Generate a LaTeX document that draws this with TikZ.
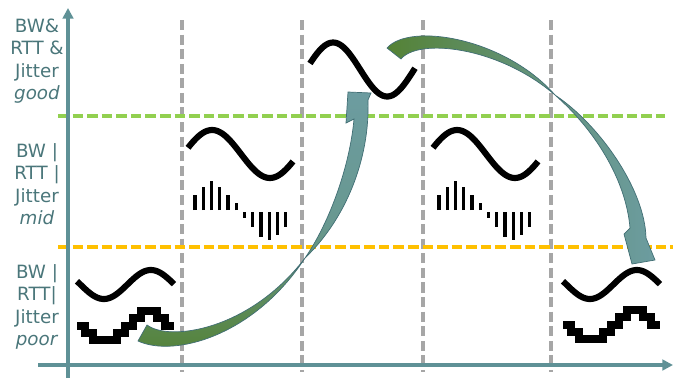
\documentclass[tikz,border=0pt]{standalone}
\usepackage{fontspec}
\setmainfont{DejaVu Sans}
\usetikzlibrary{arrows.meta}
\definecolor{axisteal}{RGB}{95,145,150}
\definecolor{labelteal}{RGB}{74,118,122}
\definecolor{gridgrey}{RGB}{166,166,166}
\definecolor{goodgreen}{RGB}{146,208,80}
\definecolor{midorange}{RGB}{255,192,0}
\definecolor{tailgreen}{RGB}{84,130,53}
\definecolor{headteal}{RGB}{108,156,160}
\definecolor{bandline}{RGB}{65,110,116}
\begin{document}
\begin{tikzpicture}[x=0.02cm,y=-0.02cm,>={Triangle[length=6pt,width=6pt]},
  lbl/.style={text=labelteal,align=center,inner sep=0pt,font=\fontsize{10.4}{12.8}\selectfont},
  axis/.style={draw=axisteal,line width=1.9pt},
  gridline/.style={draw=gridgrey,line width=2.1pt,dash pattern=on 5.7pt off 2.6pt},
  level/.style={line width=2.1pt,dash pattern=on 6pt off 2.3pt},
  wave/.style={line width=3.5pt},
  stair/.style={line width=4.8pt,miter limit=10},
  jitbar/.style={line width=1.9pt},
  band/.style={draw=bandline,line width=0.4pt}]
  \useasboundingbox (0,0) rectangle (683,379);
  % 纵向虚线
  \foreach \x in {182,302,423,551}
    \draw[gridline] (\x,20) -- (\x,372);
  % 等级分界线
  \draw[level,goodgreen] (58,116) -- (665,116);
  \draw[level,midorange] (58,247) -- (673,247);
  % 坐标轴
  \draw[axis,->] (68,378) -- (68,8);
  \draw[axis,->] (38,365) -- (673,365);
  % 纵轴标注
  \node[lbl] (good) at (37,61) {BW\&\\RTT \&\\Jitter\\\textit{good}};
  \node[lbl] (mid) at (37,184) {BW |\\RTT |\\Jitter\\\textit{mid}};
  \node[lbl] (poor) at (37,307) {BW |\\RTT|\\Jitter\\\textit{poor}};
  % good：正弦
  \draw[wave] plot[domain=0:105,samples=60] ({310+\x},{69.5-27*sin(13+3.33*\x)});
  % mid：正弦与抖动
  \foreach \s in {188,433}
    \draw[wave] plot[domain=0:105,samples=60] ({\s+\x},{154-24*sin(15+3.114*\x)});
  \foreach \s in {195,439}{
    \foreach \h [count=\i from 0] in {15,23,29,23,15,7}
      \draw[jitbar] ({\s+8.25*\i},210) -- ++(0,-\h);
    \foreach \h [count=\i from 6] in {6,15,25,28,23,15}
      \draw[jitbar] ({\s+8.25*\i},212) -- ++(0,\h);
  }
  % poor：正弦与阶梯
  \foreach \s in {77,563}
    \draw[wave] plot[domain=0:97,samples=60] ({\s+\x},{284.5-14.5*sin(167+3.83*\x)});
  \foreach \s/\t in {0/0,-486/1}
    \draw[stair,shift={(\s,\t)}] (563,325) -- (571,325) -- (571,332) -- (579,332)
      -- (579,339) -- (603,339) -- (603,332) -- (611,332) -- (611,325) -- (619,325)
      -- (619,317) -- (627,317) -- (627,310) -- (643,310) -- (643,317) -- (651,317)
      -- (651,325) -- (660,325);
  % 弯箭头：poor 到 good
  \draw[band,bottom color=tailgreen,top color=headteal,middle color=headteal!85!tailgreen]
    (147,325) .. controls (170,342) and (250,330) .. (305,258)
    .. controls (330,222) and (350,165) .. (354,119) -- (346,123) -- (348,92)
    -- (371,93) -- (368,100) .. controls (370,160) and (345,220) .. (305,258)
    .. controls (255,335) and (175,358) .. (138,341) -- cycle;
  % 弯箭头：good 到 poor
  \draw[band,left color=tailgreen,right color=headteal,middle color=headteal!60!tailgreen]
    (387,48) .. controls (410,22) and (505,38) .. (555,95)
    .. controls (595,130) and (626,180) .. (630,228) -- (624,234) -- (632,264)
    -- (655,260) -- (646,238) .. controls (645,190) and (600,125) .. (555,95)
    .. controls (498,46) and (418,38) .. (401,59) -- cycle;
\end{tikzpicture}
\end{document}
